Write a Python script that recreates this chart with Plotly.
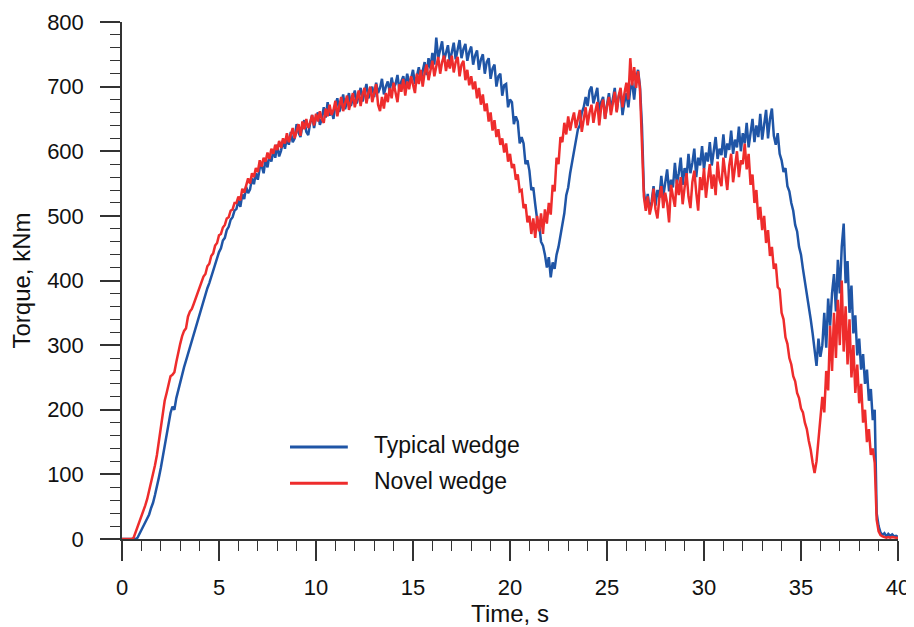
import plotly.graph_objects as go

# time axis, 0.1 s sampling
time_s = [round(0.1 * i, 1) for i in range(401)]

typical_wedge = [
    0, 0, 0, 0, 0, 0, 0, 0, 2, 8,
    14, 18, 24, 30, 38, 48, 56, 68, 80, 95,
    110, 128, 145, 162, 178, 195, 205, 200, 218, 230,
    245, 256, 266, 276, 286, 297, 306, 316, 326, 338,
    350, 358, 370, 376, 388, 396, 406, 414, 424, 432,
    444, 450, 462, 466, 478, 483, 494, 498, 508, 511,
    524, 514, 533, 526, 545, 535, 541, 558, 549, 566,
    556, 574, 578, 566, 588, 575, 594, 584, 601, 590,
    610, 592, 601, 617, 604, 622, 610, 630, 614, 620,
    642, 629, 622, 640, 648, 630, 625, 644, 656, 636,
    652, 660, 641, 650, 668, 652, 676, 655, 664, 650,
    672, 682, 661, 670, 688, 665, 676, 690, 670, 684,
    694, 674, 686, 698, 677, 690, 704, 682, 692, 700,
    684, 706, 690, 698, 712, 688, 700, 708, 692, 714,
    698, 704, 718, 694, 708, 716, 700, 720, 706, 712,
    726, 704, 716, 730, 710, 724, 738, 718, 744, 728,
    752, 734, 776, 744, 758, 770, 740, 752, 764, 738,
    756, 768, 742, 760, 772, 744, 758, 766, 740, 754,
    762, 734, 748, 756, 726, 742, 750, 720, 738, 744,
    712, 728, 734, 700, 716, 720, 686, 702, 704, 668,
    680, 676, 642, 654, 646, 612, 622, 612, 580, 586,
    570, 540, 544, 518, 494, 488, 460, 454, 440, 420,
    436, 405, 428, 418, 440, 452, 470, 492, 504, 532,
    544, 566, 582, 600, 612, 634, 640, 660, 668, 684,
    670, 694, 700, 674, 686, 698, 660, 676, 684, 650,
    672, 690, 664, 680, 698, 662, 684, 694, 656, 676,
    690, 668, 696, 706, 680, 712, 726, 700, 640, 540,
    512, 534, 508, 522, 546, 516, 540, 528, 562, 530,
    548, 572, 538, 556, 544, 582, 550, 566, 590, 548,
    574, 560, 596, 566, 582, 604, 560, 590, 578, 608,
    572, 598, 584, 614, 578, 600, 622, 588, 604, 594,
    626, 590, 612, 602, 632, 596, 618, 606, 638, 600,
    628, 612, 644, 606, 632, 650, 614, 640, 622, 658,
    618, 644, 664, 620, 650, 666, 624, 610, 628, 596,
    586, 568, 574, 546, 538, 520, 508, 486, 476, 452,
    440, 418, 400, 380, 362, 340, 318, 290, 268, 310,
    282, 300, 350, 296, 372, 330, 380, 410, 352, 432,
    380, 452, 488, 396, 430, 350, 392, 318, 346, 284,
    310, 262, 286, 240, 262, 214, 232, 184, 200, 40,
    20, 10, 6, 9, 4, 8, 5, 7, 4, 5,
    3,
]

novel_wedge = [
    0, 0, 0, 0, 0, 0, 2, 10, 18, 26,
    34, 42, 52, 62, 74, 86, 100, 114, 130, 150,
    172, 196, 214, 226, 240, 252, 254, 258, 274, 290,
    302, 314, 322, 326, 344, 352, 356, 364, 372, 380,
    390, 396, 406, 410, 422, 426, 438, 442, 454, 458,
    470, 472, 482, 486, 496, 498, 508, 510, 520, 520,
    530, 524, 542, 536, 548, 558, 550, 566, 560, 574,
    568, 586, 576, 590, 584, 598, 588, 604, 596, 610,
    602, 616, 605, 620, 612, 628, 614, 626, 636, 620,
    632, 642, 624, 646, 634, 650, 636, 644, 656, 640,
    658, 646, 662, 650, 644, 666, 654, 672, 656, 664,
    678, 654, 670, 684, 662, 676, 686, 664, 680, 690,
    668, 682, 694, 670, 688, 698, 674, 690, 700, 676,
    692, 704, 672, 662, 684, 666, 690, 676, 698, 682,
    706, 690, 676, 704, 692, 712, 686, 708, 696, 716,
    700, 690, 720, 704, 726, 700, 722, 734, 710, 728,
    740, 716, 734, 746, 720, 738, 748, 724, 742, 728,
    748, 722, 738, 746, 716, 734, 740, 710, 726, 702,
    716, 696, 708, 682, 698, 672, 688, 662, 674, 646,
    660, 632, 648, 622, 634, 610, 620, 598, 612, 584,
    596, 574, 580, 556, 564, 538, 540, 512, 518, 490,
    500, 472, 496, 466, 500, 476, 504, 472, 510, 488,
    520, 502, 548, 538, 590, 580, 622, 614, 644, 626,
    654, 632, 648, 660, 636, 652, 664, 630, 650, 668,
    640, 660, 672, 644, 662, 676, 640, 668, 680, 650,
    670, 684, 656, 676, 692, 660, 686, 698, 668, 690,
    706, 680, 744, 702, 730, 698, 724, 696, 620, 530,
    508, 530, 502, 516, 542, 510, 496, 528, 546, 512,
    536, 520, 490, 548, 530, 514, 556, 532, 560, 518,
    544, 566, 530, 512, 552, 570, 536, 508, 560, 540,
    574, 528, 556, 580, 542, 564, 532, 584, 556, 546,
    590, 560, 540, 578, 596, 552, 574, 600, 560, 586,
    580, 612, 572, 596, 548, 564, 520, 540, 494, 514,
    478, 500, 458, 478, 438, 452, 418, 426, 390, 386,
    350, 340, 312, 302, 280, 270, 252, 244, 226, 218,
    202, 196, 180, 170, 152, 138, 118, 102, 120, 150,
    180, 220, 196, 260, 230, 330, 260, 350, 280, 370,
    300, 400, 290, 360, 270, 340, 250, 300, 226, 270,
    210, 240, 180, 200, 150, 170, 130, 140, 118, 30,
    12, 6, 4, 3, 2, 3, 2, 3, 2, 2,
    2,
]

x_ticks = [0, 5, 10, 15, 20, 25, 30, 35, 40]
y_ticks = [0, 100, 200, 300, 400, 500, 600, 700, 800]

BLUE = "#1F55A6"
RED = "#EE2C2C"
AXIS = "#333333"
FONT = "Liberation Sans, Arial, sans-serif"

fig = go.Figure()
fig.add_trace(go.Scatter(x=time_s, y=typical_wedge, mode="lines", name="Typical wedge",
                         line=dict(color=BLUE, width=2.5), showlegend=False))
fig.add_trace(go.Scatter(x=time_s, y=novel_wedge, mode="lines", name="Novel wedge",
                         line=dict(color=RED, width=2.5), showlegend=False))

# legend drawn by hand to match long sample lines
legend_items = [("Typical wedge", BLUE, 0.178), ("Novel wedge", RED, 0.108)]
for label, color, yy in legend_items:
    fig.add_shape(type="line", xref="paper", yref="paper", x0=0.2165, x1=0.291, y0=yy, y1=yy,
                  line=dict(color=color, width=3))
    fig.add_annotation(xref="paper", yref="paper", x=0.3225, y=yy + 0.004, text=label, showarrow=False,
                       xanchor="left", yanchor="middle", font=dict(size=23, color="#111111", family=FONT))

# page body has an 8px margin, so the figure is sized to fit the 914x627 window
fig.update_layout(
    width=906, height=619,
    margin=dict(l=114, r=16, t=14, b=88),
    paper_bgcolor="white", plot_bgcolor="white",
    font=dict(family=FONT, size=22, color="#111111"),
    xaxis=dict(range=[0, 40], tickvals=x_ticks, showgrid=False, zeroline=False, automargin=False,
               showline=True, linecolor=AXIS, linewidth=1.5,
               ticks="outside", ticklen=20, tickwidth=1.5, tickcolor=AXIS, ticklabelstandoff=8,
               minor=dict(dtick=1, ticklen=10, tickwidth=1.2, tickcolor=AXIS, ticks="outside", showgrid=False),
               title=dict(text="Time, s", font=dict(size=24)),
               tickfont=dict(size=22)),
    yaxis=dict(range=[0, 800], tickvals=y_ticks, showgrid=False, zeroline=False, automargin=False,
               showline=True, linecolor=AXIS, linewidth=1.5,
               ticks="outside", ticklen=20, tickwidth=1.5, tickcolor=AXIS, ticklabelstandoff=12,
               minor=dict(dtick=20, ticklen=10, tickwidth=1.2, tickcolor=AXIS, ticks="outside", showgrid=False),
               title=dict(text="Torque, kNm", font=dict(size=24)),
               tickfont=dict(size=22)),
)

fig.write_html("out.html")
